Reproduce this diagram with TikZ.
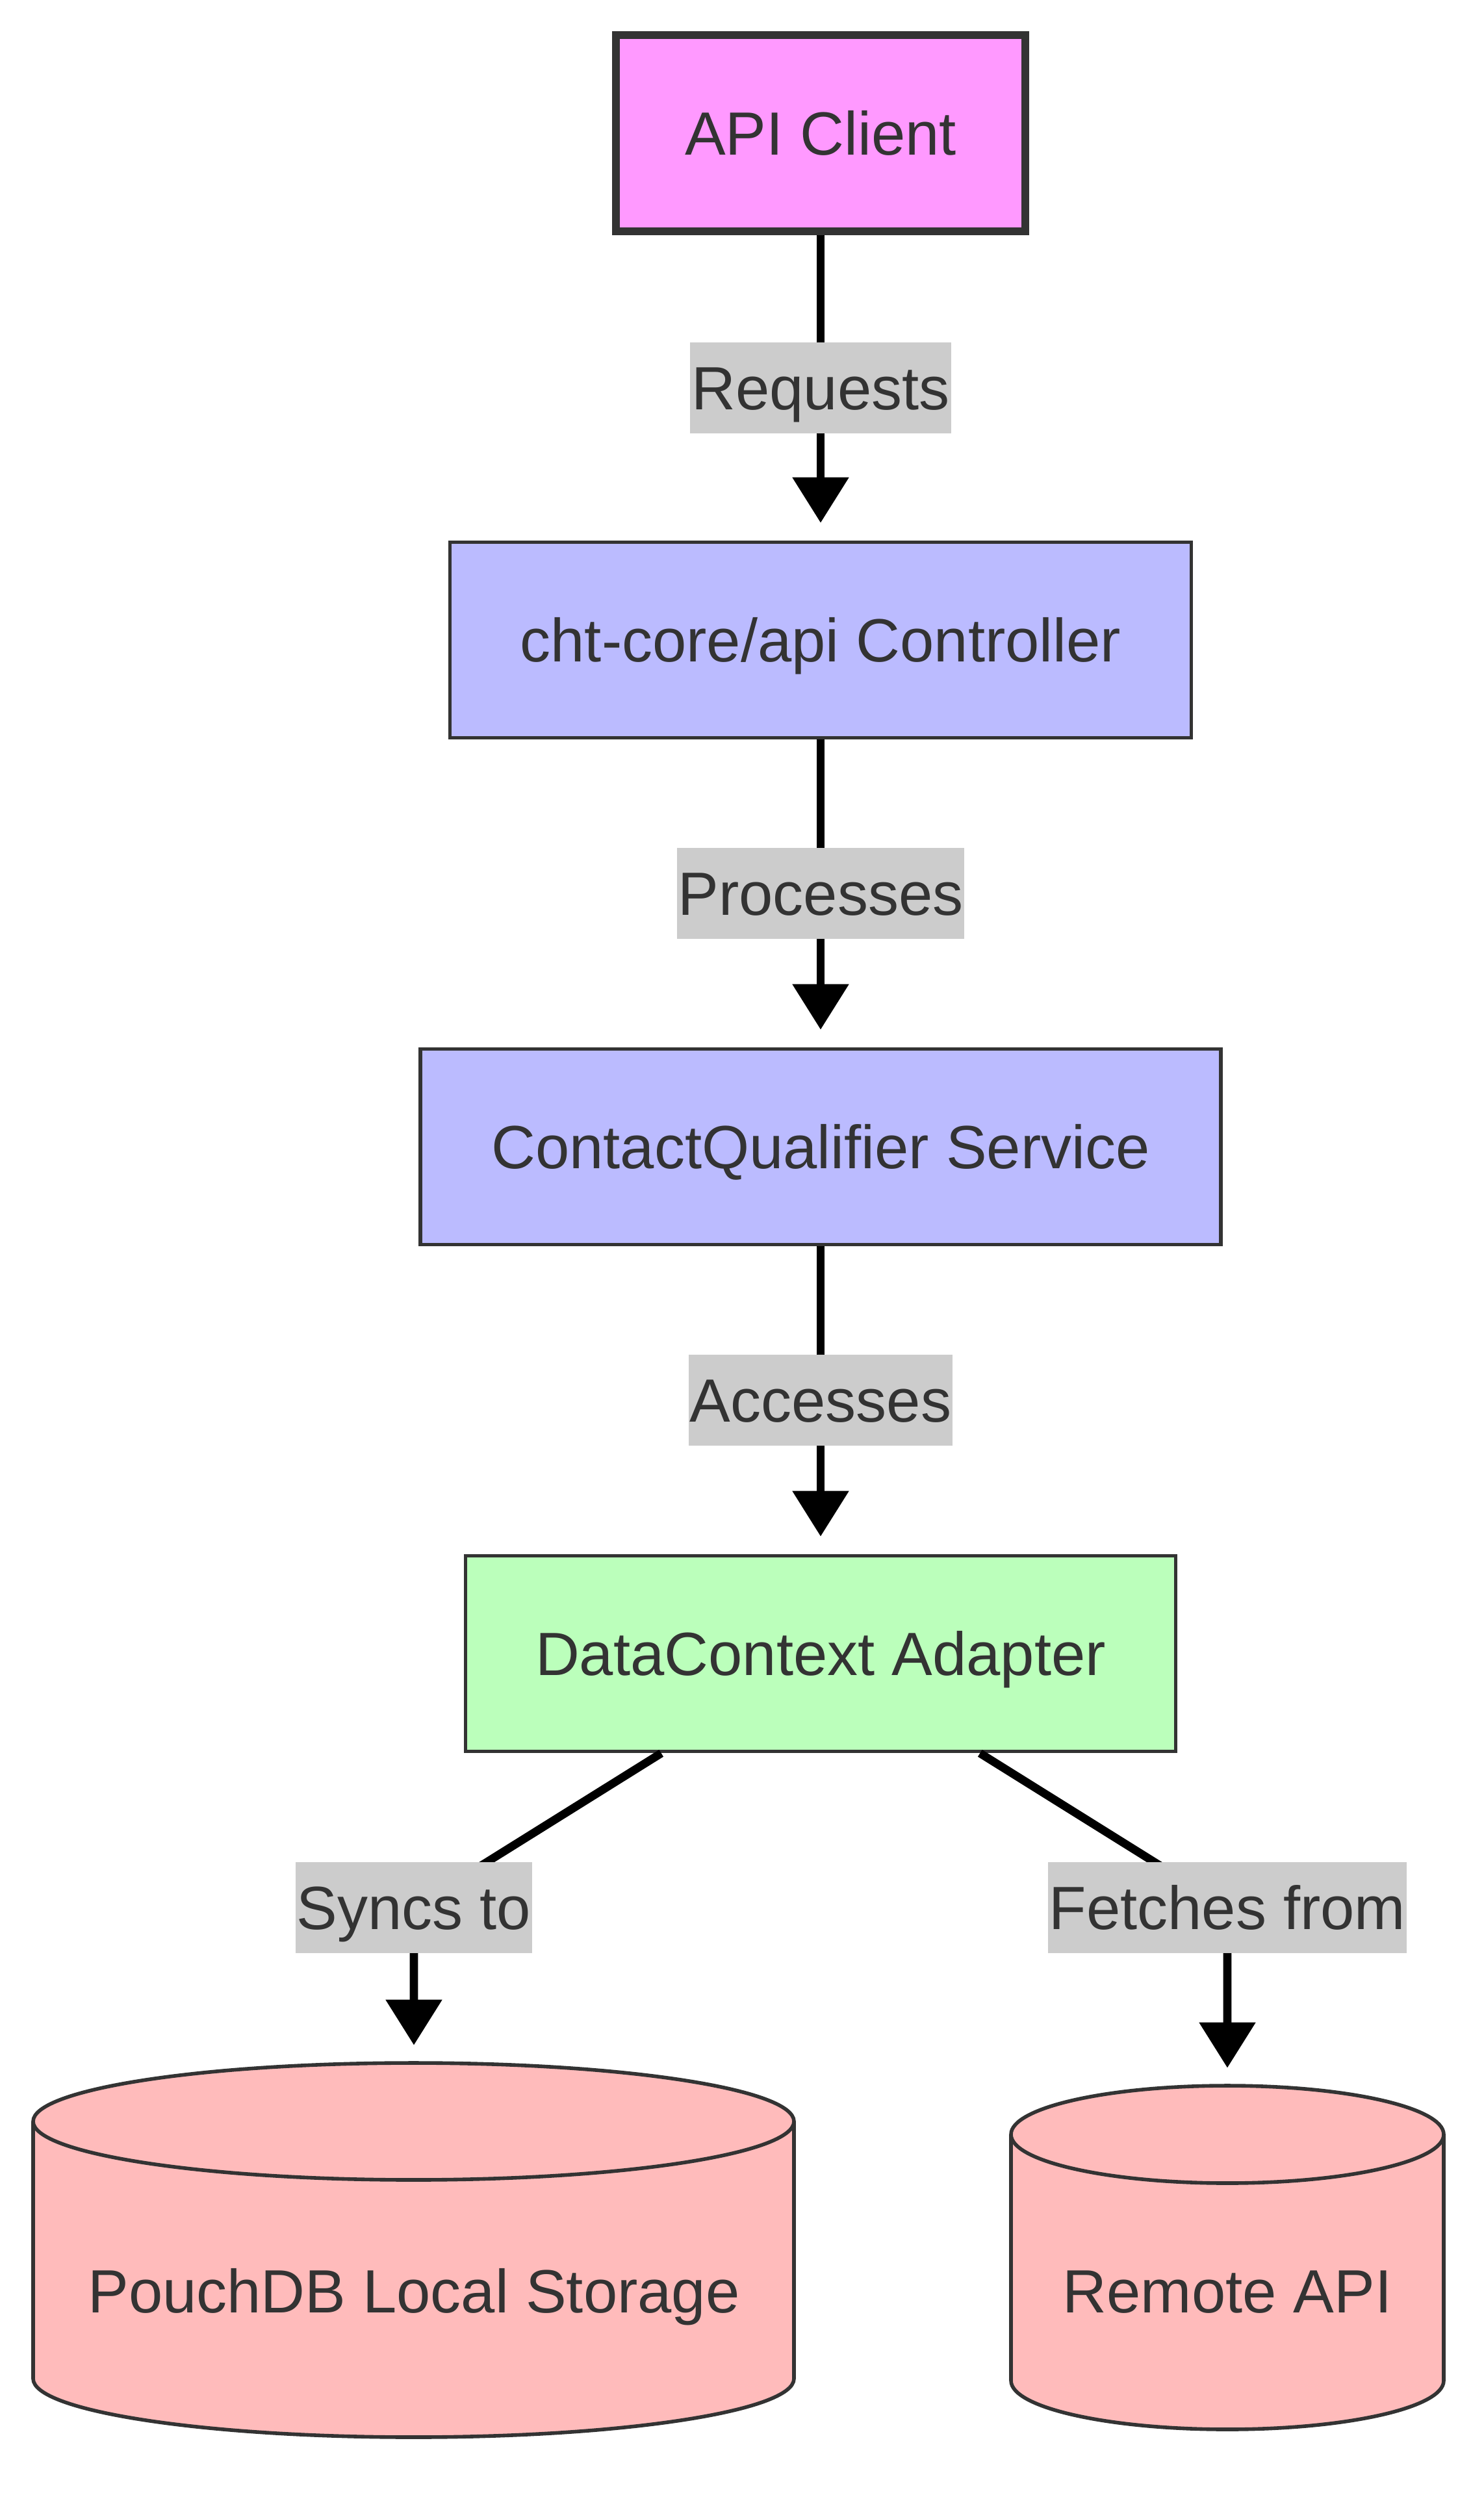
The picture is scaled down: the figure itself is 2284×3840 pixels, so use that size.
\documentclass[tikz,border=0pt]{standalone}
\usepackage{fontspec}
\setmainfont{Liberation Sans}
\usetikzlibrary{arrows.meta}
\definecolor{ink}{HTML}{333333}
\definecolor{pinkfill}{HTML}{FF99FF}
\definecolor{bluefill}{HTML}{BBBBFF}
\definecolor{greenfill}{HTML}{BBFFBB}
\definecolor{redfill}{HTML}{FFBBBB}
\definecolor{lblgray}{HTML}{CCCCCC}
\begin{document}
\begin{tikzpicture}[x=0.5pt,y=-0.5pt,
  every node/.style={font=\fontsize{47pt}{56pt}\selectfont, text=ink, text height=45pt, text depth=11.5pt},
  procbox/.style={draw=ink, line width=2.8pt, rectangle, minimum height=150.5pt, inner sep=0pt},
  clientbox/.style={draw=ink, line width=6pt, rectangle, fill=pinkfill, minimum width=315pt, minimum height=151pt, inner sep=0pt},
  lbl/.style={fill=lblgray, inner xsep=1pt, inner ysep=0pt, minimum height=70pt},
  edge/.style={draw=black, line width=6.3pt, -{Triangle[width=42pt,length=35pt]}, shorten >=13.5pt},
  cylframe/.style={draw=none, fill=none, inner sep=0pt},
  cyl/.style={draw=ink, line width=2.8pt, fill=redfill}
]
\useasboundingbox (0,0) rectangle (2284,3840);
\fill[white] (0,0) rectangle (2284,3840);

% nodes
\node[clientbox] (api) at (1263,205) {API Client};
\node[procbox, fill=bluefill, minimum width=570.5pt] (cht) at (1263,985) {cht-core/api Controller};
\node[procbox, fill=bluefill, minimum width=616pt] (cq) at (1263,1765) {ContactQualifier Service};
\node[procbox, fill=greenfill, minimum width=546.5pt] (dc) at (1263,2545) {DataContext Adapter};

% cylinders
\node[cylframe, minimum width=585.5pt, minimum height=288pt] (pouch) at (637,3463) {};
\path[cyl] (51,3265) -- (51,3661) arc[start angle=180, end angle=360, x radius=292.75pt, y radius=45pt]
  -- (1222,3265) arc[start angle=0, end angle=180, x radius=292.75pt, y radius=45pt] -- cycle;
\draw[ink, line width=2.8pt] (51,3265) arc[start angle=180, end angle=360, x radius=292.75pt, y radius=45pt];
\node (pouchtxt) at (637,3526) {PouchDB Local Storage};

\node[cylframe, minimum width=333pt, minimum height=264.5pt] (remote) at (1889,3474.5) {};
\path[cyl] (1556,3285) -- (1556,3664) arc[start angle=180, end angle=360, x radius=166.5pt, y radius=37.5pt]
  -- (2222,3285) arc[start angle=0, end angle=180, x radius=166.5pt, y radius=37.5pt] -- cycle;
\draw[ink, line width=2.8pt] (1556,3285) arc[start angle=180, end angle=360, x radius=166.5pt, y radius=37.5pt];
\node (remotetxt) at (1889,3526) {Remote API};

% connectors
\draw[edge] (api) -- node[lbl] (lreq) {Requests} (cht);
\draw[edge] (cht) -- node[lbl] (lproc) {Processes} (cq);
\draw[edge] (cq) -- node[lbl] (lacc) {Accesses} (dc);

\coordinate (sl) at (637,2936);
\coordinate (fl) at (1889,2936);
\draw[edge] (dc) -- (sl) -- (pouch.north);
\draw[edge] (dc) -- (fl) -- (remote.north);
\node[lbl] (lsync) at (sl) {Syncs to};
\node[lbl] (lfetch) at (fl) {Fetches from};
\end{tikzpicture}
\end{document}
